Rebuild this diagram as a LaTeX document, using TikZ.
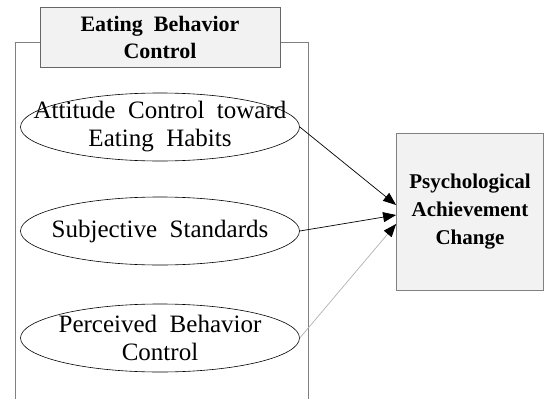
\documentclass[tikz,border=0pt]{standalone}
\usepackage{fontspec}
\setmainfont{Liberation Serif}[WordSpace=2]
\usetikzlibrary{arrows.meta,positioning,shapes.geometric}

\begin{document}
\begin{tikzpicture}[
      x=1pt,y=-1pt,font=\fontsize{25}{28}\selectfont,
      frame/.style={draw=gray,line width=0.8pt,minimum width=293pt,
                    minimum height=380pt,anchor=north west,inner sep=0pt},
      header/.style={draw=gray!80!black,fill=black!5,line width=0.8pt,
                     minimum width=240pt,minimum height=60pt,align=center,
                     font=\fontsize{22}{27}\selectfont\bfseries},
      factor/.style={ellipse,draw,line width=0.6pt,minimum width=279pt,
                     minimum height=68pt,inner xsep=-36pt,inner ysep=-14pt,
                     align=center},
      outcome/.style={draw=gray,fill=black!5,line width=0.8pt,
                      minimum width=147pt,minimum height=157pt,align=center,
                      font=\fontsize{21}{28}\selectfont\bfseries},
      arr/.style={-{Triangle[length=13pt,width=10pt,color=black]},line width=0.7pt}]
    \useasboundingbox (0,0) rectangle (544,399);
    \node[frame] (group) at (15,42) {};
    \node[header] (head) at (160,37) {Eating Behavior\\Control};
    \node[factor] (attitude) at (160,127) {Attitude Control toward\\Eating Habits};
    \node[factor] (norms) at (160,231) {Subjective Standards};
    \node[factor] (perceived) at (160,338) {Perceived Behavior\\Control};
    \node[outcome] (change) at (470,212) {Psychological\\Achievement\\Change};
    \draw[arr] (attitude.east)--([yshift=7pt]change.west);
    \draw[arr] (norms.east)--([yshift=-3pt]change.west);
    \draw[arr,draw=gray!60] (perceived.east)--([yshift=-12pt]change.west);
  \end{tikzpicture}
\end{document}
